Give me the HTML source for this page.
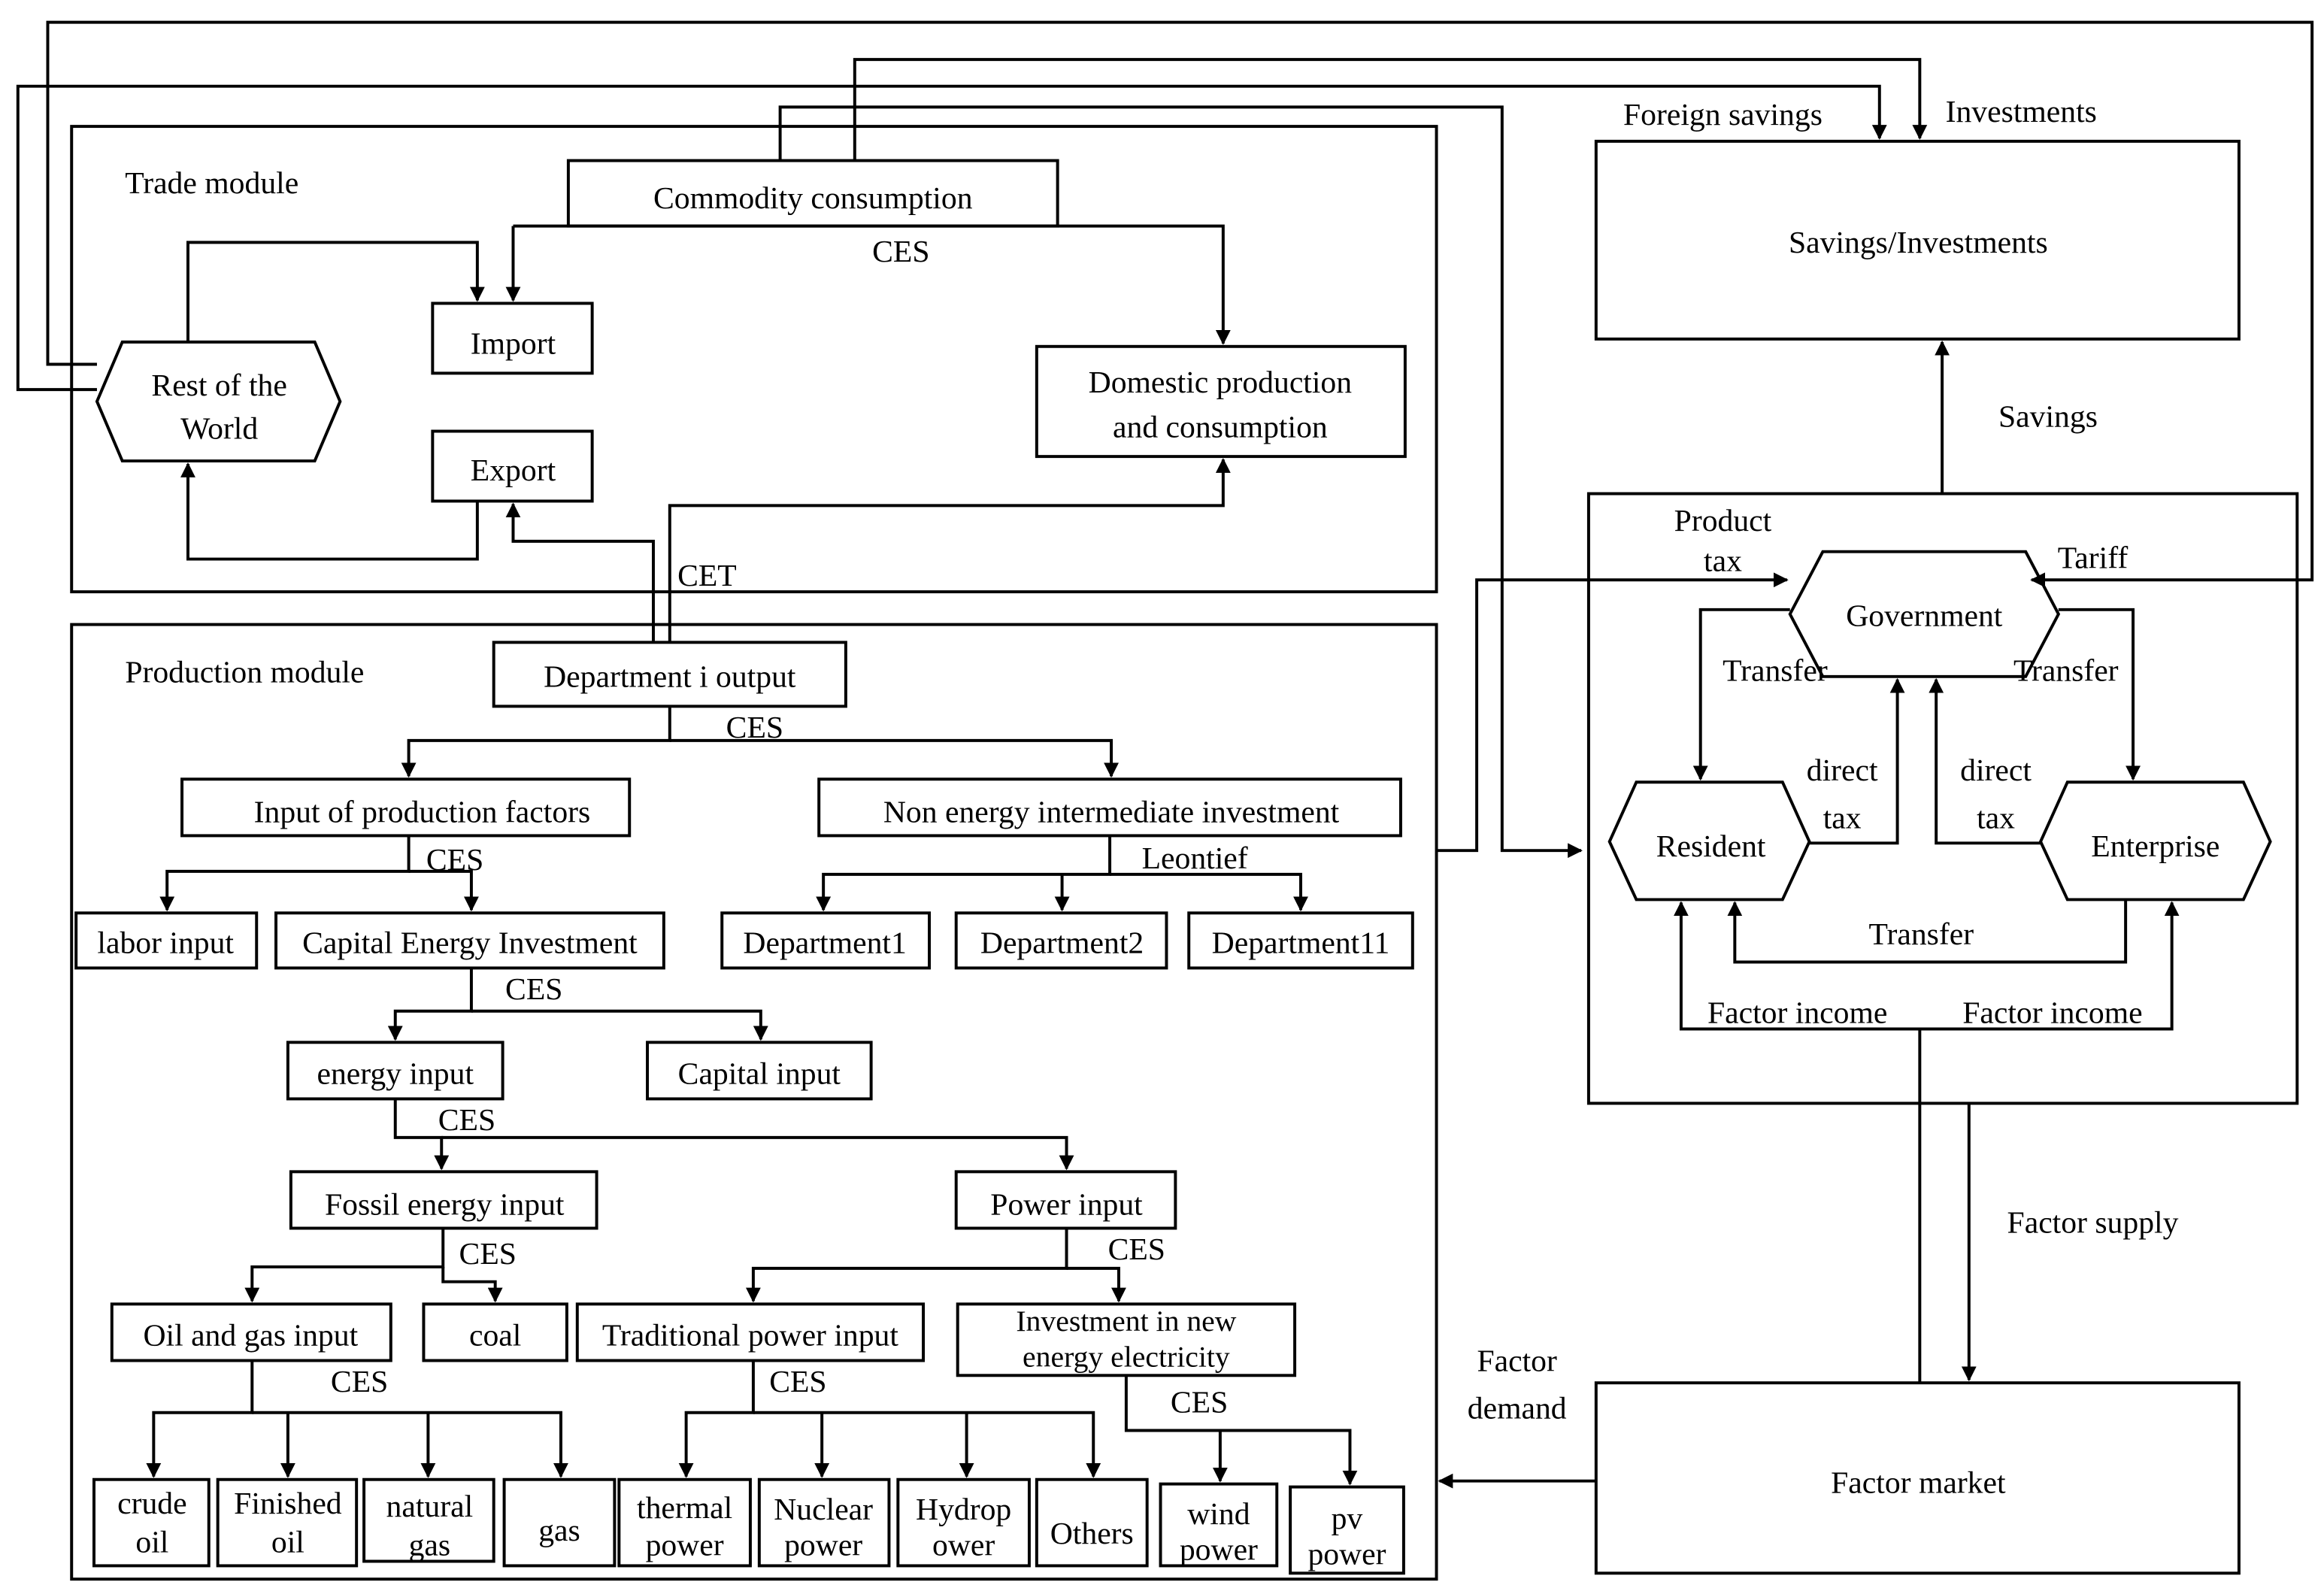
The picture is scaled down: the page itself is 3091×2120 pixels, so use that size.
<!DOCTYPE html>
<html><head><meta charset="utf-8"><style>
html,body{margin:0;padding:0;background:#fff;}
svg{display:block;}
text{font-family:"Liberation Serif",serif;font-size:21px;fill:#000;}
</style></head><body>
<svg width="3091" height="2120" viewBox="0 0 1558 1072" preserveAspectRatio="none" xmlns="http://www.w3.org/2000/svg">
<defs><marker id="a" markerWidth="10" markerHeight="10" refX="9" refY="5" orient="auto" markerUnits="userSpaceOnUse"><path d="M0,0 L10,5 L0,10 Z" fill="#000"/></marker></defs>
<g fill="none" stroke="#000" stroke-width="2">
<!-- modules -->
<rect x="48" y="85" width="915" height="313"/>
<rect x="48" y="420" width="915" height="642"/>
<rect x="1065" y="332" width="475" height="410"/>
<rect x="1070" y="95" width="431" height="133"/>
<rect x="1070" y="930" width="431" height="128"/>
<!-- trade boxes -->
<rect x="381" y="108" width="328" height="44"/>
<rect x="290" y="204" width="107" height="47"/>
<rect x="290" y="290" width="107" height="47"/>
<rect x="695" y="233" width="247" height="74"/>
<polygon points="65,270 82,230 211,230 228,270 211,310 82,310"/>
<!-- production boxes -->
<rect x="331" y="432" width="236" height="43"/>
<rect x="122" y="524" width="300" height="38"/>
<rect x="549" y="524" width="390" height="38"/>
<rect x="51" y="614" width="121" height="37"/>
<rect x="185" y="614" width="260" height="37"/>
<rect x="484" y="614" width="139" height="37"/>
<rect x="641" y="614" width="141" height="37"/>
<rect x="797" y="614" width="150" height="37"/>
<rect x="193" y="701" width="144" height="38"/>
<rect x="434" y="701" width="150" height="38"/>
<rect x="195" y="788" width="205" height="38"/>
<rect x="641" y="788" width="147" height="38"/>
<rect x="75" y="877" width="187" height="38"/>
<rect x="284" y="877" width="96" height="38"/>
<rect x="387" y="877" width="232" height="38"/>
<rect x="642" y="877" width="226" height="48"/>
<rect x="63" y="995" width="77" height="58"/>
<rect x="146" y="995" width="93" height="58"/>
<rect x="244" y="995" width="87" height="55"/>
<rect x="338" y="995" width="74" height="58"/>
<rect x="415" y="995" width="88" height="58"/>
<rect x="509" y="995" width="87" height="58"/>
<rect x="602" y="995" width="88" height="58"/>
<rect x="695" y="995" width="74" height="58"/>
<rect x="778" y="998" width="78" height="55"/>
<rect x="865" y="1000" width="76" height="58"/>
<!-- hexagons right -->
<polygon points="1200,413 1222,371 1358,371 1380,413 1358,455 1222,455"/>
<polygon points="1079,566 1097,526 1195,526 1213,566 1195,605 1097,605"/>
<polygon points="1368,566 1386,526 1504,526 1522,566 1504,605 1386,605"/>
<!-- top long lines -->
<polyline points="65,245 32,245 32,15 1550,15 1550,390 1362,390" marker-end="url(#a)"/>
<polyline points="65,262 12,262 12,58 1260,58 1260,93" marker-end="url(#a)"/>
<polyline points="573,108 573,40 1287,40 1287,93" marker-end="url(#a)"/>
<polyline points="523,108 523,72 1007,72 1007,572 1060,572" marker-end="url(#a)"/>
<!-- trade connectors -->
<polyline points="344,152 344,202" marker-end="url(#a)"/>
<polyline points="344,152 820,152 820,231" marker-end="url(#a)"/>
<polyline points="126,230 126,163 320,163 320,202" marker-end="url(#a)"/>
<polyline points="320,337 320,376 126,376 126,312" marker-end="url(#a)"/>
<polyline points="438,432 438,364 344,364 344,339" marker-end="url(#a)"/>
<polyline points="449,432 449,340 820,340 820,309" marker-end="url(#a)"/>
<!-- production connectors -->
<polyline points="449,475 449,498 274,498 274,522" marker-end="url(#a)"/>
<polyline points="449,498 745,498 745,522" marker-end="url(#a)"/>
<polyline points="274,562 274,586 112,586 112,612" marker-end="url(#a)"/>
<polyline points="274,586 316,586 316,612" marker-end="url(#a)"/>
<polyline points="744,562 744,588 552,588 552,612" marker-end="url(#a)"/>
<polyline points="712,588 712,612" marker-end="url(#a)"/>
<polyline points="744,588 872,588 872,612" marker-end="url(#a)"/>
<polyline points="316,651 316,680 265,680 265,699" marker-end="url(#a)"/>
<polyline points="316,680 510,680 510,699" marker-end="url(#a)"/>
<polyline points="265,739 265,765 296,765 296,786" marker-end="url(#a)"/>
<polyline points="296,765 715,765 715,786" marker-end="url(#a)"/>
<polyline points="297,826 297,852 169,852 169,875" marker-end="url(#a)"/>
<polyline points="297,852 297,862 332,862 332,875" marker-end="url(#a)"/>
<polyline points="715,826 715,853 505,853 505,875" marker-end="url(#a)"/>
<polyline points="715,853 750,853 750,875" marker-end="url(#a)"/>
<polyline points="169,915 169,950 103,950 103,993" marker-end="url(#a)"/>
<polyline points="169,950 376,950 376,993" marker-end="url(#a)"/>
<polyline points="193,950 193,993" marker-end="url(#a)"/>
<polyline points="287,950 287,993" marker-end="url(#a)"/>
<polyline points="505,915 505,950 460,950 460,993" marker-end="url(#a)"/>
<polyline points="505,950 733,950 733,993" marker-end="url(#a)"/>
<polyline points="551,950 551,993" marker-end="url(#a)"/>
<polyline points="648,950 648,993" marker-end="url(#a)"/>
<polyline points="755,925 755,962 905,962 905,998" marker-end="url(#a)"/>
<polyline points="818,962 818,996" marker-end="url(#a)"/>
<!-- right connectors -->
<polyline points="963,572 990,572 990,390 1198,390" marker-end="url(#a)"/>
<polyline points="1302,332 1302,230" marker-end="url(#a)"/>
<polyline points="1200,410 1140,410 1140,524" marker-end="url(#a)"/>
<polyline points="1380,410 1430,410 1430,524" marker-end="url(#a)"/>
<polyline points="1213,567 1272,567 1272,457" marker-end="url(#a)"/>
<polyline points="1368,567 1298,567 1298,457" marker-end="url(#a)"/>
<polyline points="1425,605 1425,647 1163,647 1163,607" marker-end="url(#a)"/>
<polyline points="1287,930 1287,692 1127,692 1127,607" marker-end="url(#a)"/>
<polyline points="1287,692 1456,692 1456,607" marker-end="url(#a)"/>
<polyline points="1320,742 1320,928" marker-end="url(#a)"/>
<polyline points="1070,996 965,996" marker-end="url(#a)"/>
</g>
<g text-anchor="middle">
<text x="142" y="130">Trade module</text>
<text x="545" y="140">Commodity consumption</text>
<text x="604" y="176">CES</text>
<text x="344" y="238">Import</text>
<text x="344" y="323">Export</text>
<text x="818" y="264">Domestic production</text>
<text x="818" y="294">and consumption</text>
<text x="147" y="266">Rest of the</text>
<text x="147" y="295">World</text>
<text x="474" y="394">CET</text>
<text x="164" y="459">Production module</text>
<text x="449" y="462">Department i output</text>
<text x="506" y="496">CES</text>
<text x="283" y="553">Input of production factors</text>
<text x="745" y="553">Non energy intermediate investment</text>
<text x="305" y="585">CES</text>
<text x="801" y="584">Leontief</text>
<text x="111" y="641">labor input</text>
<text x="315" y="641">Capital Energy Investment</text>
<text x="553" y="641">Department1</text>
<text x="712" y="641">Department2</text>
<text x="872" y="641">Department11</text>
<text x="358" y="672">CES</text>
<text x="265" y="729">energy input</text>
<text x="509" y="729">Capital input</text>
<text x="313" y="760">CES</text>
<text x="298" y="817">Fossil energy input</text>
<text x="715" y="817">Power input</text>
<text x="327" y="850">CES</text>
<text x="762" y="847">CES</text>
<text x="168" y="905">Oil and gas input</text>
<text x="332" y="905">coal</text>
<text x="503" y="905">Traditional power input</text>
<text x="755" y="895" style="font-size:20px">Investment in new</text>
<text x="755" y="919" style="font-size:20px">energy electricity</text>
<text x="241" y="936">CES</text>
<text x="535" y="936">CES</text>
<text x="804" y="950">CES</text>
<text x="102" y="1018">crude</text><text x="102" y="1044">oil</text>
<text x="193" y="1018">Finished</text><text x="193" y="1044">oil</text>
<text x="288" y="1020">natural</text><text x="288" y="1046">gas</text>
<text x="375" y="1036">gas</text>
<text x="459" y="1021">thermal</text><text x="459" y="1046">power</text>
<text x="552" y="1022">Nuclear</text><text x="552" y="1046">power</text>
<text x="646" y="1022">Hydrop</text><text x="646" y="1046">ower</text>
<text x="732" y="1038">Others</text>
<text x="817" y="1025">wind</text><text x="817" y="1049">power</text>
<text x="903" y="1028">pv</text><text x="903" y="1052">power</text>
<text x="1155" y="84">Foreign savings</text>
<text x="1355" y="82">Investments</text>
<text x="1286" y="170">Savings/Investments</text>
<text x="1373" y="287">Savings</text>
<text x="1155" y="357">Product</text>
<text x="1155" y="384">tax</text>
<text x="1403" y="382">Tariff</text>
<text x="1290" y="421">Government</text>
<text x="1190" y="458">Transfer</text>
<text x="1385" y="458">Transfer</text>
<text x="1235" y="525">direct</text><text x="1235" y="557">tax</text>
<text x="1338" y="525">direct</text><text x="1338" y="557">tax</text>
<text x="1147" y="576">Resident</text>
<text x="1445" y="576">Enterprise</text>
<text x="1288" y="635">Transfer</text>
<text x="1205" y="688">Factor income</text>
<text x="1376" y="688">Factor income</text>
<text x="1403" y="829">Factor supply</text>
<text x="1017" y="922">Factor</text>
<text x="1017" y="954">demand</text>
<text x="1286" y="1004">Factor market</text>
</g>
</svg>
</body></html>
